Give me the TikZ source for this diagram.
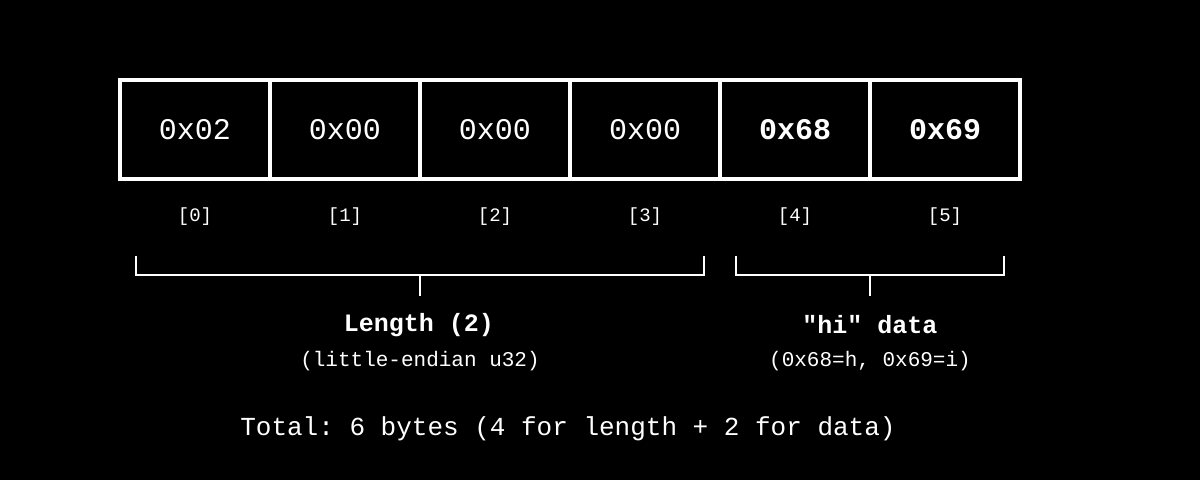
\documentclass[tikz,border=0pt]{standalone}
\usepackage{fontspec}
\setmonofont{Liberation Mono}
\begin{document}
\begin{tikzpicture}[x=1pt,y=-1pt,
  cell/.style={draw=white,line width=3.5pt,minimum width=150pt,minimum height=99pt,inner sep=0pt,outer sep=0pt,text=white,font=\ttfamily\fontsize{30}{34}\selectfont},
  boldcell/.style={cell,font=\ttfamily\bfseries\fontsize{30}{34}\selectfont},
  idx/.style={text=white,font=\ttfamily\fontsize{19}{22}\selectfont},
  brace/.style={draw=white,line width=2.5pt},
  title/.style={text=white,font=\ttfamily\bfseries\fontsize{25}{28}\selectfont},
  sub/.style={text=white,font=\ttfamily\fontsize{21}{24}\selectfont},
  total/.style={text=white,font=\ttfamily\fontsize{26}{30}\selectfont}]
\fill[black] (0,0) rectangle (1200,480);
\useasboundingbox (0,0) rectangle (1200,480);
\node[cell] (b0) at (195,129.5) {0x02};
\node[cell] (b1) at (345,129.5) {0x00};
\node[cell] (b2) at (495,129.5) {0x00};
\node[cell] (b3) at (645,129.5) {0x00};
\node[boldcell] (b4) at (795,129.5) {0x68};
\node[boldcell] (b5) at (945,129.5) {0x69};
\node[idx] (i0) at (195,217) {[0]};
\node[idx] (i1) at (345,217) {[1]};
\node[idx] (i2) at (495,217) {[2]};
\node[idx] (i3) at (645,217) {[3]};
\node[idx] (i4) at (795,217) {[4]};
\node[idx] (i5) at (945,217) {[5]};
\draw[brace] (136,256) -- (136,275) -- (704,275) -- (704,256);
\draw[brace] (420,275) -- (420,296);
\draw[brace] (736,256) -- (736,275) -- (1004,275) -- (1004,256);
\draw[brace] (870,275) -- (870,296);
\node[title] (lt) at (419,325) {Length (2)};
\node[sub] (ls) at (420,361) {(little-endian u32)};
\node[title] (dt) at (870,325) {"hi" data};
\node[sub] (ds) at (870,361) {(0x68=h, 0x69=i)};
\node[total] (tot) at (568,429) {Total: 6 bytes (4 for length + 2 for data)};
\end{tikzpicture}
\end{document}
